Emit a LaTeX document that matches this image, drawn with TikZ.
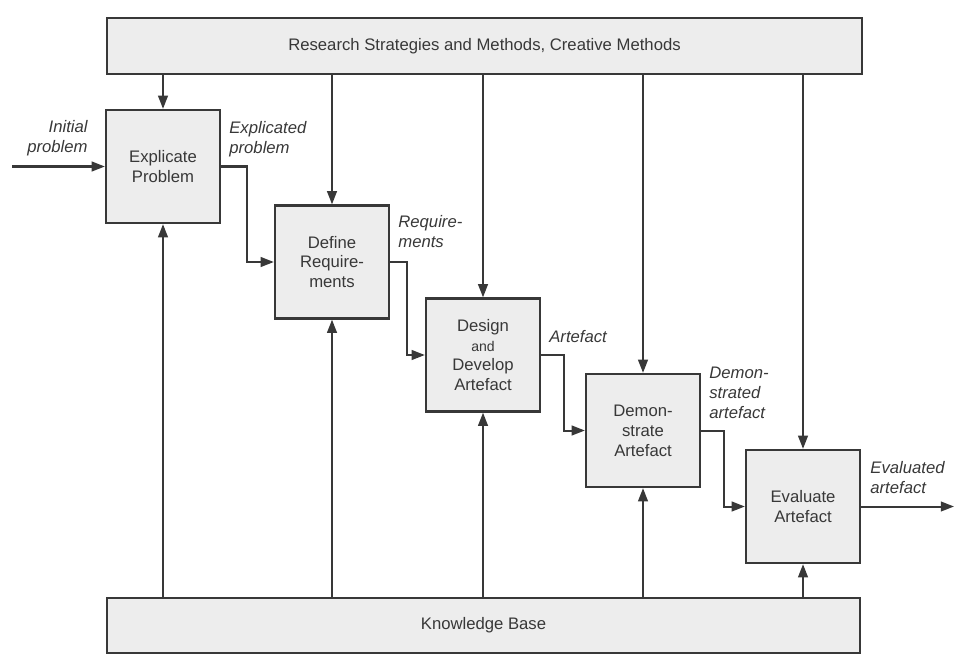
\documentclass[tikz,border=0pt]{standalone}
\usepackage{fontspec}
\setmainfont{Liberation Sans}
\usetikzlibrary{arrows.meta}

\definecolor{ink}{HTML}{383838}
\definecolor{boxfill}{HTML}{EDEDED}

\begin{document}
\begin{tikzpicture}[x=0.02cm,y=-0.02cm,
    every node/.style={font=\fontsize{9.5}{11.3}\selectfont,text=ink},
    bar/.style={draw=ink,fill=boxfill,line width=1.3pt},
    stage/.style={draw=ink,fill=boxfill,line width=1.3pt,minimum width=2.28cm,minimum height=2.26cm,align=center,inner sep=1pt},
    flow/.style={draw=ink,line width=1.15pt,-{Triangle[length=7.5pt,width=5.5pt]}},
    tag/.style={font=\fontsize{9.5}{11.3}\selectfont\itshape,inner sep=0pt}]
            \useasboundingbox (0,0) rectangle (955,656);

            \node[bar,minimum width=15.1cm,minimum height=1.12cm] (research) at (484.5,46) {Research Strategies and Methods, Creative Methods};
            \node[bar,minimum width=15.06cm,minimum height=1.1cm] (knowledge) at (483.5,625.5) {Knowledge Base};

            \node[stage] (explicate) at (163,166.5) {Explicate\\Problem};
            \node[stage] (define) at (332,262) {Define\\Require-\\ments};
            \node[stage] (design) at (483,355) {Design\\{\fontsize{8}{11.3}\selectfont and}\\Develop\\Artefact};
            \node[stage] (demo) at (643,430.5) {Demon-\\strate\\Artefact};
            \node[stage] (evaluate) at (803,506.5) {Evaluate\\Artefact};

            \coordinate (start) at (12,166.5);
            \coordinate (finish) at (954,506.5);

            \node[tag,align=right,anchor=north east] (initial) at (88,120) {Initial\\problem};
            \node[tag,align=left,anchor=north west] (explicated) at (229,121) {Explicated\\problem};
            \node[tag,align=left,anchor=north west] (requirements) at (398,215) {Require-\\ments};
            \node[tag,align=left,anchor=north west] (artefact) at (549,330) {Artefact};
            \node[tag,align=left,anchor=north west] (demonstrated) at (709,367) {Demon-\\strated\\artefact};
            \node[tag,align=left,anchor=north west] (evaluated) at (870,461) {Evaluated\\artefact};

            \draw[flow] (start) -- (explicate.west);
            \draw[flow] (explicate.east) -- ++(26,0) |- (define.west);
            \draw[flow] (define.east) -- ++(17,0) |- (design.west);
            \draw[flow] (design.east) -- ++(23,0) |- (demo.west);
            \draw[flow] (demo.east) -- ++(23,0) |- (evaluate.west);
            \draw[flow] (evaluate.east) -- (finish);

            \draw[flow] (explicate.north |- research.south) -- (explicate.north);
            \draw[flow] (define.north |- research.south) -- (define.north);
            \draw[flow] (design.north |- research.south) -- (design.north);
            \draw[flow] (demo.north |- research.south) -- (demo.north);
            \draw[flow] (evaluate.north |- research.south) -- (evaluate.north);

            \draw[flow] (explicate.south |- knowledge.north) -- (explicate.south);
            \draw[flow] (define.south |- knowledge.north) -- (define.south);
            \draw[flow] (design.south |- knowledge.north) -- (design.south);
            \draw[flow] (demo.south |- knowledge.north) -- (demo.south);
            \draw[flow] (evaluate.south |- knowledge.north) -- (evaluate.south);
        \end{tikzpicture}
\end{document}
